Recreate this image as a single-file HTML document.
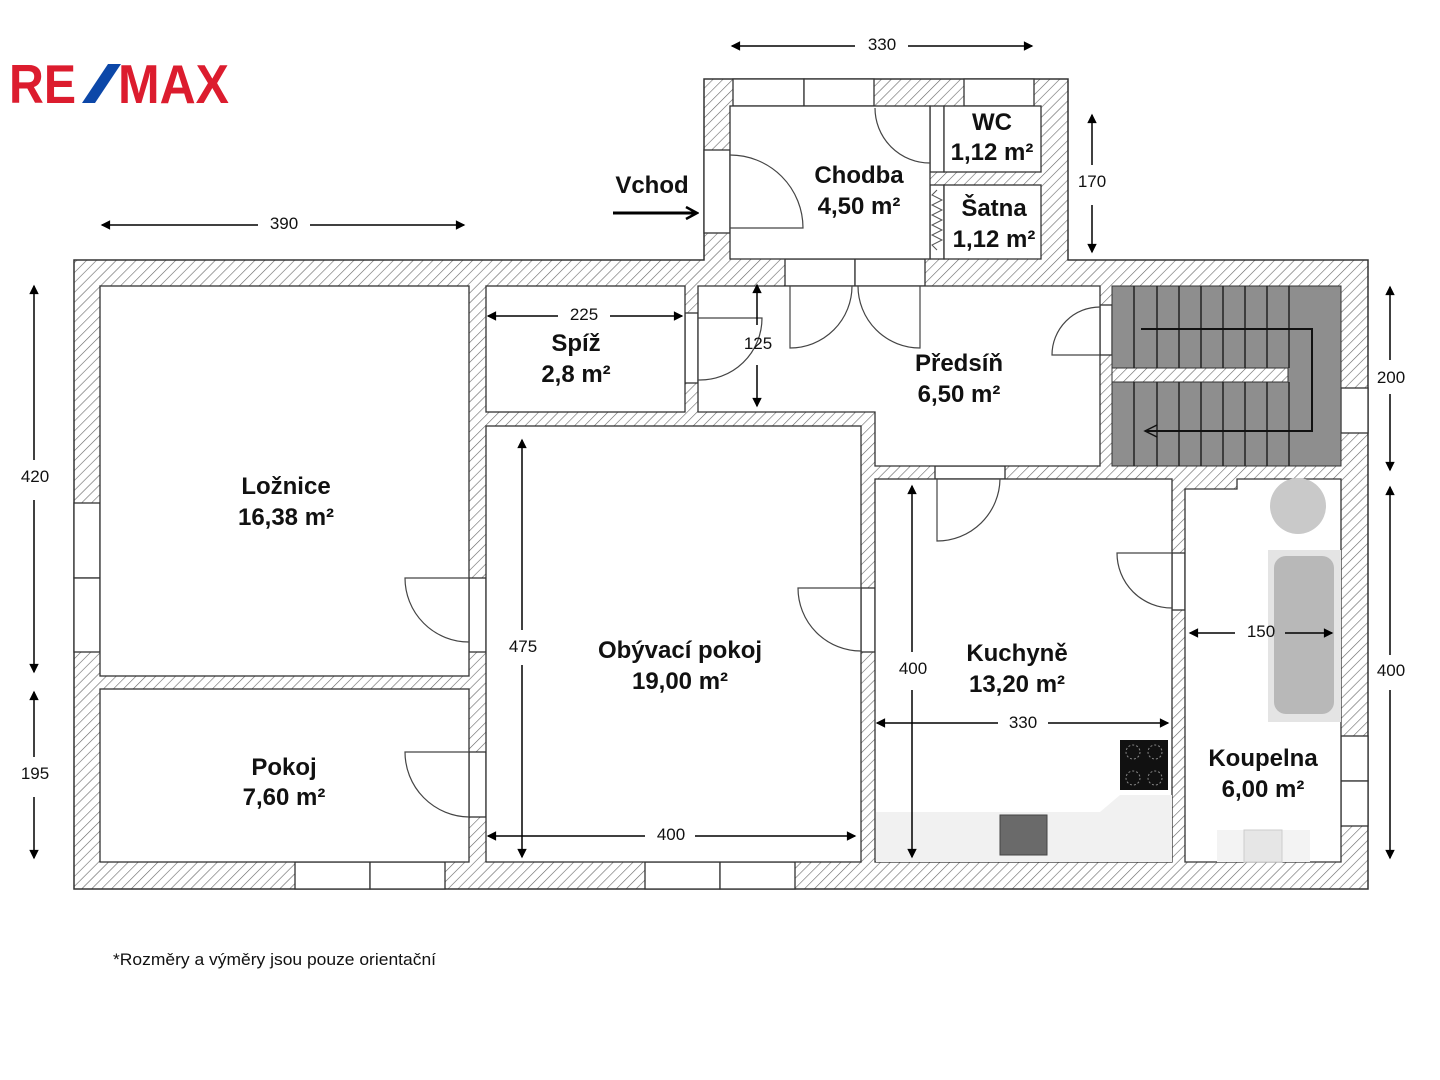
<!DOCTYPE html>
<html><head><meta charset="utf-8"><style>
html,body{margin:0;padding:0;background:#fff;width:1440px;height:1080px;overflow:hidden}
svg{display:block}
text{font-family:"Liberation Sans",Arial,sans-serif;fill:#111}
.b{font-weight:bold;font-size:24px}
.d{font-size:17px}
</style></head><body>
<svg width="1440" height="1080" viewBox="0 0 1440 1080" xmlns="http://www.w3.org/2000/svg">
<defs>
<pattern id="h" width="7" height="7" patternUnits="userSpaceOnUse" patternTransform="rotate(45)">
<rect width="7" height="7" fill="#fff"/><line x1="0" y1="0" x2="0" y2="7" stroke="#666" stroke-width="1.2"/>
</pattern>
<marker id="a" markerWidth="10" markerHeight="10" refX="8" refY="5" orient="auto"><path d="M3,2.5 L8,5 L3,7.5 Z" fill="#000" stroke="#000" stroke-width="0.8"/></marker>
<marker id="v" markerWidth="14" markerHeight="14" refX="11" refY="7" orient="auto" markerUnits="userSpaceOnUse"><path d="M1,1 L12,7 L1,13" fill="none" stroke="#000" stroke-width="2.5"/></marker>
</defs>
<!-- logo -->
<text x="9" y="103" textLength="67" lengthAdjust="spacingAndGlyphs" style="font-weight:bold;font-size:55px;fill:#dc1c2e">RE</text>
<polygon points="82,103 95,103 121,64 108,64" fill="#0c47a8"/>
<text x="118" y="103" textLength="111" lengthAdjust="spacingAndGlyphs" style="font-weight:bold;font-size:55px;fill:#dc1c2e">MAX</text>

<path d="M74,260 H704 V79 H1068 V260 H1368 V889 H74 Z" fill="url(#h)" stroke="#333" stroke-width="1.5"/>
<g fill="#fff" stroke="#333" stroke-width="1.3">
<rect x="733" y="79" width="71" height="27"/><rect x="804" y="79" width="70" height="27"/>
<rect x="964" y="79" width="70" height="27"/>
<rect x="704" y="150" width="26" height="83"/>
<rect x="295" y="862" width="75" height="27"/><rect x="370" y="862" width="75" height="27"/>
<rect x="645" y="862" width="75" height="27"/><rect x="720" y="862" width="75" height="27"/>
<rect x="74" y="503" width="26" height="75"/><rect x="74" y="578" width="26" height="74"/>
<rect x="1341" y="388" width="27" height="45"/>
<rect x="1341" y="736" width="27" height="45"/><rect x="1341" y="781" width="27" height="45"/>
<rect x="785" y="259" width="70" height="27"/><rect x="855" y="259" width="70" height="27"/>
<rect x="469" y="578" width="17" height="74"/><rect x="469" y="752" width="17" height="65"/>
<rect x="861" y="588" width="14" height="64"/>
<rect x="685" y="313" width="13" height="70"/>
<rect x="1100" y="305" width="12" height="50"/>
<rect x="935" y="466" width="70" height="13"/>
<rect x="1172" y="553" width="13" height="57"/>
<rect x="930" y="106" width="14" height="66"/>
<rect x="930" y="185" width="14" height="74"/>
<rect x="100" y="286" width="369" height="390"/>
<rect x="100" y="689" width="369" height="173"/>
<rect x="486" y="286" width="199" height="126"/>
<rect x="486" y="426" width="375" height="436"/>
<path d="M698,286 H1100 V466 H875 V412 H698 Z"/>
<rect x="875" y="479" width="297" height="383"/>
<path d="M1185,489 H1237 V479 H1341 V862 H1185 Z"/>
<rect x="730" y="106" width="200" height="153"/>
<rect x="944" y="106" width="97" height="66"/>
<rect x="944" y="185" width="97" height="74"/>
</g>
<polyline points="937,190 932,195 942,200 932,205 942,210 932,215 942,220 932,225 942,230 932,235 942,240 932,245 937,250" fill="none" stroke="#555" stroke-width="1"/>
<rect x="1112" y="286" width="229" height="180" fill="#8e8e8e" stroke="#333"/>
<rect x="1112" y="368" width="176" height="14" fill="url(#h)" stroke="#333"/>
<g stroke="#222" stroke-width="1.5">
<line x1="1134" y1="286" x2="1134" y2="368"/><line x1="1157" y1="286" x2="1157" y2="368"/><line x1="1179" y1="286" x2="1179" y2="368"/><line x1="1201" y1="286" x2="1201" y2="368"/><line x1="1223" y1="286" x2="1223" y2="368"/><line x1="1245" y1="286" x2="1245" y2="368"/><line x1="1267" y1="286" x2="1267" y2="368"/><line x1="1289" y1="286" x2="1289" y2="368"/>
<line x1="1134" y1="382" x2="1134" y2="466"/><line x1="1157" y1="382" x2="1157" y2="466"/><line x1="1179" y1="382" x2="1179" y2="466"/><line x1="1201" y1="382" x2="1201" y2="466"/><line x1="1223" y1="382" x2="1223" y2="466"/><line x1="1245" y1="382" x2="1245" y2="466"/><line x1="1267" y1="382" x2="1267" y2="466"/><line x1="1289" y1="382" x2="1289" y2="466"/>
</g>
<polyline points="1141,329 1312,329 1312,431 1145,431" fill="none" stroke="#111" stroke-width="2"/>
<polyline points="1157,425 1145,431 1157,437" fill="none" stroke="#111" stroke-width="1.5"/>
<g fill="none" stroke="#444" stroke-width="1.2">
<path d="M469,578 H405 A64,64 0 0 0 469,642"/>
<path d="M469,752 H405 A65,65 0 0 0 469,817"/>
<path d="M861,588 H798 A63,63 0 0 0 861,651"/>
<path d="M698,318 H762 A62,62 0 0 1 698,380"/>
<path d="M790,286 V348 A62,62 0 0 0 852,286"/>
<path d="M920,286 V348 A62,62 0 0 1 858,286"/>
<path d="M1100,355 H1052 A48,48 0 0 1 1100,307"/>
<path d="M937,479 V541 A63,63 0 0 0 1000,479"/>
<path d="M1172,553 H1117 A55,55 0 0 0 1172,608"/>
<path d="M730,228 H803 A73,73 0 0 0 730,155"/>
<path d="M875,108 A55,55 0 0 0 930,163"/>
</g>
<path d="M876,812 H1100 L1120,795 H1172 V862 H876 Z" fill="#f1f1f1"/>
<rect x="1120" y="740" width="48" height="50" fill="#111"/>
<g fill="none" stroke="#888" stroke-dasharray="2,2"><circle cx="1133" cy="752" r="7"/><circle cx="1155" cy="752" r="7"/><circle cx="1133" cy="778" r="7"/><circle cx="1155" cy="778" r="7"/></g>
<rect x="1000" y="815" width="47" height="40" fill="#6a6a6a" stroke="#444"/>
<circle cx="1298" cy="506" r="28" fill="#c9c9c9"/>
<rect x="1268" y="550" width="73" height="172" fill="#e4e4e4"/>
<rect x="1274" y="556" width="60" height="158" rx="12" fill="#b8b8b8"/>
<rect x="1217" y="830" width="93" height="32" fill="#f3f3f3"/>
<rect x="1244" y="830" width="38" height="32" fill="#e6e6e6" stroke="#ccc"/>
<g stroke="#000" stroke-width="1.5" fill="none" marker-end="url(#a)">
<line x1="855" y1="46" x2="732" y2="46"/><line x1="908" y1="46" x2="1032" y2="46"/>
<line x1="258" y1="225" x2="102" y2="225"/><line x1="310" y1="225" x2="464" y2="225"/>
<line x1="1092" y1="165" x2="1092" y2="115"/><line x1="1092" y1="205" x2="1092" y2="252"/>
<line x1="34" y1="460" x2="34" y2="286"/><line x1="34" y1="500" x2="34" y2="672"/>
<line x1="34" y1="757" x2="34" y2="692"/><line x1="34" y1="797" x2="34" y2="858"/>
<line x1="558" y1="316" x2="488" y2="316"/><line x1="610" y1="316" x2="682" y2="316"/>
<line x1="757" y1="325" x2="757" y2="285"/><line x1="757" y1="365" x2="757" y2="406"/>
<line x1="522" y1="630" x2="522" y2="440"/><line x1="522" y1="665" x2="522" y2="857"/>
<line x1="645" y1="836" x2="488" y2="836"/><line x1="695" y1="836" x2="855" y2="836"/>
<line x1="912" y1="652" x2="912" y2="486"/><line x1="912" y1="690" x2="912" y2="857"/>
<line x1="998" y1="723" x2="877" y2="723"/><line x1="1048" y1="723" x2="1168" y2="723"/>
<line x1="1235" y1="633" x2="1190" y2="633"/><line x1="1285" y1="633" x2="1332" y2="633"/>
<line x1="1390" y1="360" x2="1390" y2="287"/><line x1="1390" y1="394" x2="1390" y2="470"/>
<line x1="1390" y1="655" x2="1390" y2="487"/><line x1="1390" y1="690" x2="1390" y2="858"/>
</g>
<line x1="613" y1="213" x2="696" y2="213" stroke="#000" stroke-width="3" marker-end="url(#v)"/>
<g class="d" text-anchor="middle">
<text x="882" y="50">330</text><text x="284" y="229">390</text><text x="1092" y="187">170</text>
<text x="35" y="482">420</text><text x="35" y="779">195</text><text x="584" y="320">225</text>
<text x="758" y="349">125</text><text x="523" y="652">475</text><text x="671" y="840">400</text>
<text x="913" y="674">400</text><text x="1023" y="728">330</text><text x="1261" y="637">150</text>
<text x="1391" y="383">200</text><text x="1391" y="676">400</text>
</g>
<g class="b" text-anchor="middle">
<text x="652" y="193">Vchod</text>
<text x="859" y="183">Chodba</text><text x="859" y="214">4,50 m²</text>
<text x="992" y="130">WC</text><text x="992" y="160">1,12 m²</text>
<text x="994" y="216">Šatna</text><text x="994" y="247">1,12 m²</text>
<text x="576" y="351">Spíž</text><text x="576" y="382">2,8 m²</text>
<text x="959" y="371">Předsíň</text><text x="959" y="402">6,50 m²</text>
<text x="286" y="494">Ložnice</text><text x="286" y="525">16,38 m²</text>
<text x="680" y="658">Obývací pokoj</text><text x="680" y="689">19,00 m²</text>
<text x="1017" y="661">Kuchyně</text><text x="1017" y="692">13,20 m²</text>
<text x="1263" y="766">Koupelna</text><text x="1263" y="797">6,00 m²</text>
<text x="284" y="775">Pokoj</text><text x="284" y="805">7,60 m²</text>
</g>
<text x="113" y="965" textLength="323" lengthAdjust="spacingAndGlyphs" style="font-size:17px">*Rozměry a výměry jsou pouze orientační</text>
</svg>
</body></html>
